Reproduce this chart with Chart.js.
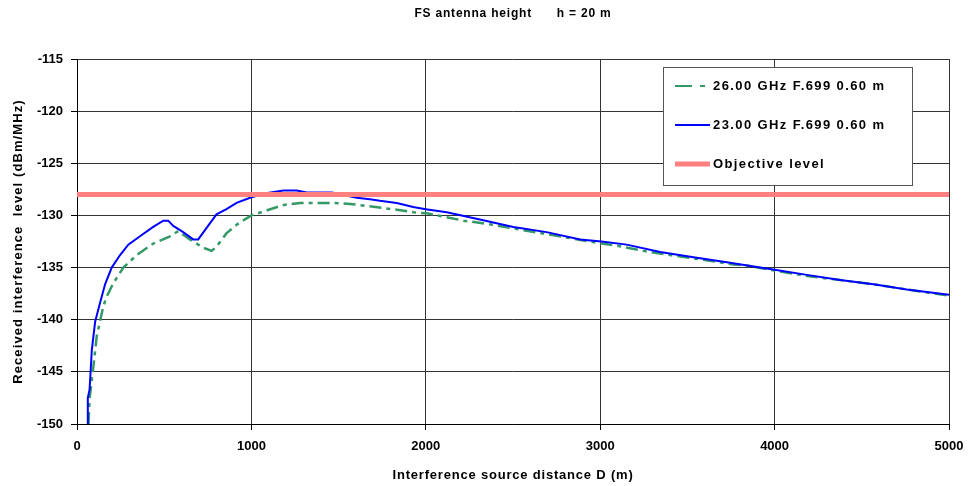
<!DOCTYPE html>
<html>
<head>
<meta charset="utf-8">
<script src="https://cdn.jsdelivr.net/npm/chart.js@4.4.1/dist/chart.umd.min.js"></script>
<style>
  html, body { margin: 0; padding: 0; background: #fff; }
  #wrap { width: 968px; height: 486px; }
</style>
</head>
<body>
<div id="wrap"><canvas id="grafica" width="968" height="486"></canvas></div>
<script>
// === DATOS ===
const titulo = 'FS antenna height      h = 20 m';
const tituloX = 'Interference source distance D (m)';
const tituloY = 'Received interference  level (dBm/MHz)';

const etiquetas = ['26.00 GHz F.699 0.60 m', '23.00 GHz F.699 0.60 m', 'Objective level'];

// 26 GHz
const dist26 = [66, 72, 90, 94, 113, 151, 170, 208, 266, 342, 437, 533, 581, 647, 724, 772, 800, 858, 915, 942,
  1000, 1090, 1185, 1280, 1377, 1472, 1567, 1663, 1760, 1855, 1930, 2006, 2216, 2350, 2522, 2693, 2837,
  3007, 3095, 3247, 3400, 3572, 3762, 3840, 3935, 4185, 4376, 4567, 4835, 5000];
const nivel26 = [-150, -147.6, -145, -144.5, -141.6, -138.7, -137.8, -136.5, -135.0, -133.8, -132.7, -132.0, -131.5, -132.3, -133.1, -133.4, -133.0, -131.7, -130.9, -130.6,
  -130.0, -129.5, -129.0, -128.8, -128.8, -128.8, -128.9, -129.1, -129.3, -129.5, -129.7, -129.8, -130.5, -130.8, -131.3, -131.8, -132.2,
  -132.7, -132.9, -133.4, -133.8, -134.2, -134.7, -134.8, -135.1, -135.8, -136.2, -136.6, -137.3, -137.7];

// 23 GHz
const dist23 = [59, 62, 72, 78, 85, 104, 132, 161, 199, 247, 294, 361, 437, 495, 523, 552, 609, 666, 695, 743, 800, 857, 915, 992,
  1075, 1183, 1260, 1317, 1462, 1604, 1680, 1737, 1833, 1928, 2000, 2120, 2310, 2502, 2693, 2885,
  3007, 3152, 3344, 3535, 3726, 3917, 4000, 4185, 4376, 4567, 4758, 5000];
const nivel23 = [-150, -147.5, -146.7, -145, -142.9, -140.2, -138.4, -136.6, -135.0, -133.8, -132.8, -132.0, -131.1, -130.5, -130.5, -131.0, -131.6, -132.3, -132.3, -131.2, -129.9, -129.4, -128.8, -128.3,
  -127.9, -127.6, -127.6, -127.8, -127.8, -128.3, -128.45, -128.6, -128.8, -129.2, -129.4, -129.7, -130.4, -131.1, -131.6, -132.3,
  -132.5, -132.8, -133.5, -134.0, -134.5, -135.0, -135.2, -135.7, -136.2, -136.6, -137.1, -137.6];

// Nivel objetivo
const distObjetivo = [0, 5000];
const nivelObjetivo = [-128, -128];

// Ejes
const ejeX = { min: 0, max: 5000, paso: 1000 };
const ejeY = { min: -150, max: -115, paso: 5 };

const colores = ['#339966', '#0000ff', '#ff8080'];
const fuente = "'Liberation Sans', Arial, sans-serif";

const puntos = (xs, ys) => xs.map((x, i) => ({ x, y: ys[i] }));

// Texto con espaciado entre letras
function texto(ctx, str, x, y, size, espacio, rot) {
  ctx.save();
  ctx.font = `bold ${size}px ${fuente}`;
  ctx.letterSpacing = espacio + 'px';
  ctx.fillStyle = '#000';
  ctx.textAlign = 'center';
  ctx.textBaseline = 'middle';
  ctx.translate(x, y);
  if (rot) ctx.rotate(rot);
  ctx.fillText(str, 0, 0);
  ctx.restore();
}

// Título y títulos de ejes
const pluginTitulos = {
  id: 'titulos',
  afterDraw(chart) {
    const { ctx, chartArea } = chart;
    const cx = (chartArea.left + chartArea.right) / 2;
    texto(ctx, titulo, cx, 14, 12, 0.8);
    texto(ctx, tituloX, cx, 475, 13, 0.8);
    texto(ctx, tituloY, 18, (chartArea.top + chartArea.bottom) / 2, 13, 1.1, -Math.PI / 2);
  }
};

// Leyenda con marco
const pluginLeyenda = {
  id: 'leyendaCaja',
  afterDraw(chart) {
    const ctx = chart.ctx;
    const x0 = 663, y0 = 67, w = 249, h = 118;
    const filas = [86, 125, 164];
    ctx.save();
    ctx.fillStyle = '#fff';
    ctx.fillRect(x0, y0, w, h);
    ctx.strokeStyle = '#555';
    ctx.lineWidth = 1;
    ctx.strokeRect(x0 + 0.5, y0 + 0.5, w, h);

    ctx.font = `bold 13px ${fuente}`;
    ctx.letterSpacing = '1.4px';
    ctx.textAlign = 'left';
    ctx.textBaseline = 'middle';
    filas.forEach((fy, i) => {
      ctx.beginPath();
      ctx.strokeStyle = colores[i];
      ctx.lineWidth = i === 2 ? 5 : 2;
      ctx.setLineDash(i === 0 ? [17, 8, 5, 40] : []);
      ctx.moveTo(675, fy);
      ctx.lineTo(710, fy);
      ctx.stroke();
      ctx.setLineDash([]);
      ctx.fillStyle = '#000';
      ctx.fillText(etiquetas[i], 713, fy);
    });
    ctx.restore();
  }
};

// Sin margen extra por la última etiqueta del eje X
const sinRelleno = s => { s.paddingLeft = 0; s.paddingRight = 0; };

const ctx = document.getElementById('grafica');
window.chartInterferencia = new Chart(ctx, {
  type: 'line',
  data: {
    datasets: [
      {
        label: etiquetas[2],
        data: puntos(distObjetivo, nivelObjetivo),
        borderColor: colores[2],
        borderWidth: 5,
        order: 0
      },
      {
        label: etiquetas[1],
        data: puntos(dist23, nivel23),
        borderColor: colores[1],
        borderWidth: 2,
        order: 1
      },
      {
        label: etiquetas[0],
        data: puntos(dist26, nivel26),
        borderColor: colores[0],
        borderWidth: 2.5,
        borderDash: [12, 5, 4, 5],
        order: 2
      }
    ]
  },
  options: {
    responsive: false,
    animation: false,
    events: [],
    elements: { point: { radius: 0 }, line: { tension: 0, fill: false } },
    layout: { padding: { top: 59, right: 19, left: 0, bottom: 0 } },
    plugins: { legend: { display: false }, title: { display: false }, tooltip: { enabled: false } },
    scales: {
      x: {
        type: 'linear',
        min: ejeX.min, max: ejeX.max,
        afterFit: s => { s.height = 62; sinRelleno(s); },
        ticks: { stepSize: ejeX.paso, padding: 9, color: '#000', font: { family: fuente, size: 13, weight: 'bold' },
          callback: v => String(v) },
        grid: { color: '#333', lineWidth: 1, tickLength: 6, tickColor: '#000' },
        border: { color: '#000', width: 1 }
      },
      y: {
        min: ejeY.min, max: ejeY.max,
        afterFit: s => { s.width = 77; },
        ticks: { stepSize: ejeY.paso, padding: 8, color: '#000', font: { family: fuente, size: 13, weight: 'bold' },
          callback: v => String(v) },
        grid: { color: '#333', lineWidth: 1, tickLength: 6, tickColor: '#000' },
        border: { color: '#000', width: 1 }
      }
    }
  },
  plugins: [pluginTitulos, pluginLeyenda]
});
</script>
</body>
</html>
